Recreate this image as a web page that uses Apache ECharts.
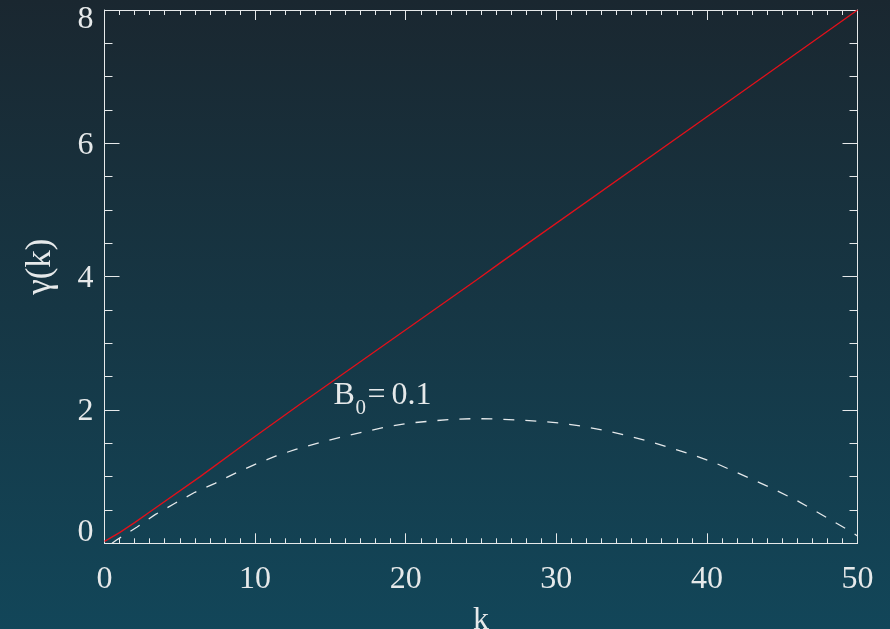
<!DOCTYPE html>
<html>
<head>
<meta charset="utf-8">
<script src="https://cdn.jsdelivr.net/npm/echarts@6/dist/echarts.min.js"></script>
<style>
  html, body { margin: 0; padding: 0; background: #16323d; }
  #chart { width: 890px; height: 629px; }
</style>
</head>
<body>
<div id="chart"></div>
<script>
// Growth rate gamma(k): MHD-free case (solid red) and B0 = 0.1 case (dashed)
const redK     = [0, 1, 2, 3, 6.35, 9.67, 13, 24.7, 26.3, 39.7, 50];
const redGamma = [0.03, 0.16, 0.31, 0.47, 1.0, 1.55, 2.09, 3.95, 4.21, 6.35, 8.0];

const dashK     = [0.5, 0.8, 2.14, 3.36, 4.68, 6.0, 7.34, 8.67, 10.0, 11.4, 12.7, 14.3, 15.65, 17.1, 18.5, 20.1, 21.5, 23.0, 24.5, 26.0, 27.5, 28.9, 30.4, 31.9, 33.4, 34.8, 36.25, 37.7, 39.1, 40.45, 41.85, 43.2, 44.55, 45.9, 47.2, 48.5, 49.75, 50];
const dashGamma = [0.0, 0.05, 0.24, 0.43, 0.6, 0.765, 0.9, 1.05, 1.185, 1.31, 1.41, 1.51, 1.59, 1.665, 1.735, 1.8, 1.83, 1.86, 1.87, 1.865, 1.85, 1.83, 1.8, 1.75, 1.685, 1.61, 1.525, 1.425, 1.325, 1.215, 1.075, 0.94, 0.8, 0.65, 0.485, 0.315, 0.15, 0.11];

const xRange = [0, 50];
const yRange = [0, 8];
const xLabel = 'k';
const yLabel = 'γ(k)';
const curveLabel = { k: 15.2, gamma: 1.97, main: 'B', sub: '0', eq: '=', value: '0.1' };

const pairs = (xs, ys) => xs.map((x, i) => [x, ys[i]]);

const FONT = '"Liberation Serif", "DejaVu Serif", serif';
const INK = '#e6e9ea';

function axisBase(show, margin) {
  return {
    axisLine: { show: true, onZero: false, lineStyle: { color: INK, width: 1 } },
    splitLine: { show: false },
    axisLabel: {
      show: show, color: INK, fontFamily: FONT, fontSize: 32, margin: margin
    }
  };
}

const chart = echarts.init(document.getElementById('chart'), null, { renderer: 'canvas' });

// y tick labels: the end labels are nudged inward so they stay inside the frame height
const yTickLabel = {
  formatter: function (v) {
    if (v === yRange[1]) return '{top|' + v + '}';
    if (v === yRange[0]) return '{bot|' + v + '}';
    return '{mid|' + v + '}';
  },
  rich: {
    top: { fontFamily: FONT, fontSize: 32, color: INK, padding: [20, 0, 0, 0] },
    bot: { fontFamily: FONT, fontSize: 32, color: INK, padding: [0, 0, 22, 0] },
    mid: { fontFamily: FONT, fontSize: 32, color: INK, padding: [4, 0, 0, 0] }
  }
};

const option = {
  animation: false,
  backgroundColor: {
    type: 'linear', x: 0, y: 0, x2: 0, y2: 1,
    colorStops: [
      { offset: 0, color: '#1a2730' },
      { offset: 1, color: '#124659' }
    ]
  },
  grid: { left: 104.5, right: 32.5, top: 10, bottom: 85.7, containLabel: false, outerBoundsMode: 'none' },
  xAxis: [
    Object.assign(axisBase(true, 20), {
      type: 'value', min: xRange[0], max: xRange[1], interval: 10, position: 'bottom',
      name: xLabel, nameLocation: 'middle', nameGap: 61,
      nameTextStyle: { color: INK, fontFamily: FONT, fontSize: 32 },
      axisTick: { show: true, inside: true, length: 10, lineStyle: { color: INK } },
      minorTick: { show: true, splitNumber: 10, length: 5, lineStyle: { color: INK } }
    }),
    Object.assign(axisBase(false, 8), {
      type: 'value', min: xRange[0], max: xRange[1], interval: 10, position: 'top',
      axisTick: { show: true, inside: true, length: 10, lineStyle: { color: INK } },
      minorTick: { show: true, splitNumber: 10, length: 5, lineStyle: { color: INK } }
    })
  ],
  yAxis: [
    Object.assign(axisBase(true, 11), {
      type: 'value', min: yRange[0], max: yRange[1], interval: 2, position: 'left',
      name: yLabel, nameLocation: 'middle', nameGap: 46, nameRotate: 90,
      nameTextStyle: { color: INK, fontFamily: FONT, fontSize: 35, padding: [0, 0, 0, 20] },
      axisTick: { show: true, inside: true, length: 15, lineStyle: { color: INK } },
      minorTick: { show: true, splitNumber: 4, length: 8, lineStyle: { color: INK } }
    }),
    Object.assign(axisBase(false, 8), {
      type: 'value', min: yRange[0], max: yRange[1], interval: 2, position: 'right',
      axisTick: { show: true, inside: true, length: 15, lineStyle: { color: INK } },
      minorTick: { show: true, splitNumber: 4, length: 8, lineStyle: { color: INK } }
    })
  ],
  series: [
    {
      type: 'line', xAxisIndex: 0, yAxisIndex: 0,
      data: pairs(redK, redGamma),
      showSymbol: false, clip: true,
      lineStyle: { color: '#e0101a', width: 1.4 }
    },
    {
      type: 'line', xAxisIndex: 0, yAxisIndex: 0,
      data: pairs(dashK, dashGamma),
      showSymbol: false, clip: true,
      lineStyle: { color: '#e4e8ea', width: 1.3, type: [11, 11] }
    }
  ]
};
Object.assign(option.yAxis[0].axisLabel, yTickLabel);

chart.setOption(option);

// "B0=0.1" label placed at its data coordinate, subscript drawn smaller and lower
const p = chart.convertToPixel({ xAxisIndex: 0, yAxisIndex: 0 }, [curveLabel.k, curveLabel.gamma]);
const labelStyle = { fill: INK, fontFamily: FONT };
const txt = (x, y, text, size) => ({
  type: 'text', x: x, y: y,
  style: Object.assign({ text: text, fontSize: size, verticalAlign: 'bottom' }, labelStyle)
});
chart.setOption({
  graphic: [{
    type: 'group', x: p[0], y: p[1], silent: true,
    children: [
      txt(0, 0, curveLabel.main, 32),
      txt(22, 7, curveLabel.sub, 21),
      txt(34, 0, curveLabel.eq, 32),
      txt(58, 0, curveLabel.value, 32)
    ]
  }]
});
</script>
</body>
</html>
